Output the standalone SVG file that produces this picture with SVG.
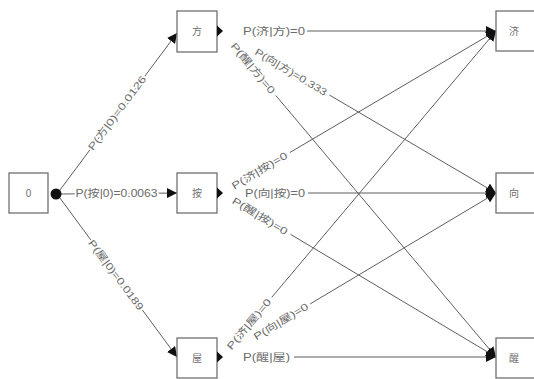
<svg xmlns="http://www.w3.org/2000/svg" width="534" height="379" viewBox="0 0 534 379">
  <style>
    .box { fill: #ffffff; stroke: #707070; stroke-width: 1.3; }
    .node-text { font-family: "Liberation Sans", "Noto Sans CJK SC", sans-serif; font-size: 10px; fill: #707070; text-anchor: middle; dominant-baseline: central; }
    .edge { fill: none; stroke: #5e5e5e; stroke-width: 1; }
    .lbl { font-family: "Liberation Sans", "Noto Sans CJK SC", sans-serif; font-size: 10px; fill: #6a6a6a; text-anchor: middle; dominant-baseline: central; paint-order: stroke; stroke: #ffffff; stroke-width: 3px; stroke-linejoin: round; }
    .tab { fill: #111111; }
  </style>
  <defs>
    <marker id="arrow" viewBox="0 0 10 10" refX="10" refY="5" markerWidth="10" markerHeight="10" markerUnits="userSpaceOnUse" orient="auto">
      <path d="M0,0 L10,5 L0,10 z" fill="#111111"/>
    </marker>
  </defs>

  <!-- connectors -->
  <g id="connectors">
    <!-- from the start node -->
    <line class="edge" x1="57" y1="194" x2="177" y2="33" marker-end="url(#arrow)"/>
    <line class="edge" x1="57" y1="194" x2="177" y2="193" marker-end="url(#arrow)"/>
    <line class="edge" x1="57" y1="194" x2="177" y2="357" marker-end="url(#arrow)"/>

    <!-- from 方 -->
    <line class="edge" x1="307" y1="31" x2="496" y2="31" marker-end="url(#arrow)"/>
    <line class="edge" x1="329.4" y1="95" x2="496" y2="193" marker-end="url(#arrow)"/>
    <line class="edge" x1="275.8" y1="95.5" x2="496" y2="357" marker-end="url(#arrow)"/>

    <!-- from 按 -->
    <line class="edge" x1="289.9" y1="152.5" x2="496" y2="31" marker-end="url(#arrow)"/>
    <line class="edge" x1="308" y1="193" x2="496" y2="193" marker-end="url(#arrow)"/>
    <line class="edge" x1="290.5" y1="234.3" x2="496" y2="357" marker-end="url(#arrow)"/>

    <!-- from 屋 -->
    <line class="edge" x1="271.7" y1="297.4" x2="496" y2="31" marker-end="url(#arrow)"/>
    <line class="edge" x1="310.2" y1="303.9" x2="496" y2="193" marker-end="url(#arrow)"/>
    <line class="edge" x1="294" y1="357" x2="496" y2="357" marker-end="url(#arrow)"/>

    <!-- edge labels -->
    <text class="lbl" transform="translate(117,113) rotate(-53.3)" textLength="90" lengthAdjust="spacingAndGlyphs">P(方|0)=0.0126</text>
    <text class="lbl" x="116.5" y="193" textLength="82" lengthAdjust="spacingAndGlyphs">P(按|0)=0.0063</text>
    <text class="lbl" transform="translate(116,275) rotate(53.3)" textLength="85" lengthAdjust="spacingAndGlyphs">P(屋|0)=0.0189</text>

    <text class="lbl" x="274" y="31" textLength="62" lengthAdjust="spacingAndGlyphs">P(济|方)=0</text>
    <text class="lbl" transform="translate(291,72) rotate(30.8)" textLength="82" lengthAdjust="spacingAndGlyphs">P(向|方)=0.333</text>
    <text class="lbl" transform="translate(253,68.2) rotate(50.2)" textLength="63" lengthAdjust="spacingAndGlyphs">P(醒|方)=0</text>

    <text class="lbl" transform="translate(259.5,170.6) rotate(-30.8)" textLength="63" lengthAdjust="spacingAndGlyphs">P(济|按)=0</text>
    <text class="lbl" x="275" y="193" textLength="60" lengthAdjust="spacingAndGlyphs">P(向|按)=0</text>
    <text class="lbl" transform="translate(260,216) rotate(31.1)" textLength="63" lengthAdjust="spacingAndGlyphs">P(醒|按)=0</text>

    <text class="lbl" transform="translate(249,324) rotate(-50.2)" textLength="63" lengthAdjust="spacingAndGlyphs">P(济|屋)=0</text>
    <text class="lbl" transform="translate(281,321.4) rotate(-31.1)" textLength="62" lengthAdjust="spacingAndGlyphs">P(向|屋)=0</text>
    <text class="lbl" x="266.5" y="357" textLength="47" lengthAdjust="spacingAndGlyphs">P(醒|屋)</text>
  </g>

  <!-- start node -->
  <g id="node-0">
    <rect class="box" x="9" y="173" width="39" height="40"/>
    <text class="node-text" x="28.5" y="193">0</text>
    <circle cx="56" cy="194" r="5.5" fill="#111111"/>
  </g>

  <!-- middle column -->
  <g id="node-fang">
    <rect class="box" x="177" y="11" width="40" height="41"/>
    <text class="node-text" x="197" y="31">方</text>
    <path class="tab" d="M217,25.5 L223,31 L217,36.5 z"/>
  </g>
  <g id="node-an">
    <rect class="box" x="177" y="173" width="40" height="40"/>
    <text class="node-text" x="197" y="193">按</text>
    <path class="tab" d="M217,187.5 L223,193 L217,198.5 z"/>
  </g>
  <g id="node-wu">
    <rect class="box" x="177" y="338" width="40" height="40"/>
    <text class="node-text" x="197" y="358">屋</text>
    <path class="tab" d="M217,351.5 L223,357 L217,362.5 z"/>
  </g>

  <!-- right column -->
  <g id="node-ji">
    <rect class="box" x="496" y="11" width="40" height="40"/>
    <text class="node-text" x="514" y="31">济</text>
  </g>
  <g id="node-xiang">
    <rect class="box" x="496" y="173" width="40" height="40"/>
    <text class="node-text" x="514" y="193">向</text>
  </g>
  <g id="node-xing">
    <rect class="box" x="496" y="338" width="40" height="40"/>
    <text class="node-text" x="514" y="358">醒</text>
  </g>
</svg>
